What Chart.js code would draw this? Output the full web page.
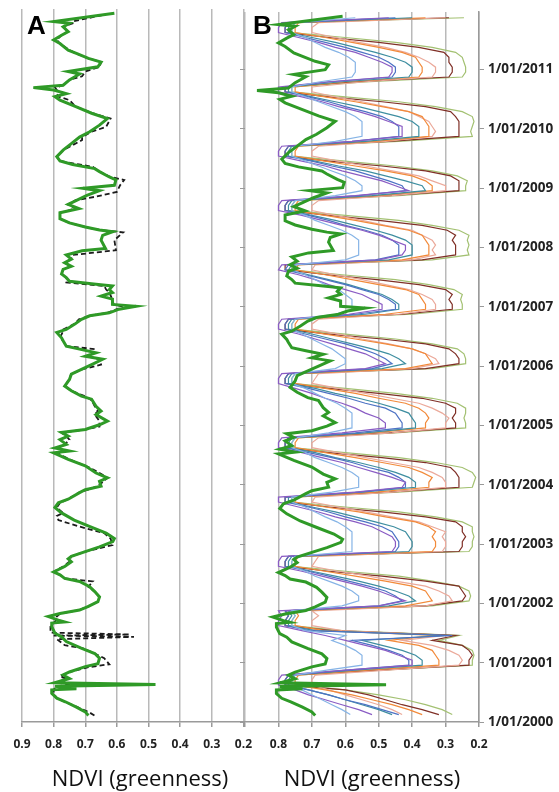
<!DOCTYPE html>
<html>
<head>
<meta charset="utf-8">
<script src="https://cdn.jsdelivr.net/npm/chart.js@4.4.0/dist/chart.umd.min.js"></script>
<style>
  body { margin: 0; background: #fff; width: 559px; height: 792px; position: relative; overflow: hidden; }
  canvas { position: absolute; top: 0; }
  #chartA { left: 0; }
  #chartB { left: 230px; }
  .panel { position: absolute; font: bold 26px "Liberation Sans", Arial, sans-serif; line-height: 26px; color: #000; }
  .xtitle { position: absolute; font: 22px "Open Sans", sans-serif; line-height: 22px; color: #111; white-space: nowrap; transform: translateX(-50%); }
</style>
</head>
<body>
<canvas id="chartA" width="262" height="792"></canvas>
<canvas id="chartB" width="329" height="792"></canvas>
<div class="panel" style="left:27px;top:12px">A</div>
<div class="panel" style="left:253px;top:12px">B</div>
<div class="xtitle" style="left:140px;top:766px">NDVI (greenness)</div>
<div class="xtitle" style="left:372px;top:766px">NDVI (greenness)</div>
<script>
// time runs bottom -> top as decimal years, NDVI on a reversed x axis
const yMin = 2000, yMax = 2011.97;

// green = study site, black dashed = comparison site (panel A), [year, ndvi]
const greenA = [
  [2000.11,0.69],[2000.17,0.70],[2000.25,0.728],[2000.34,0.763],[2000.40,0.79],[2000.48,0.806],[2000.54,0.806],[2000.56,0.728],
  [2000.60,0.796],[2000.63,0.478],[2000.66,0.796],[2000.73,0.75],[2000.79,0.77],[2000.84,0.75],[2000.93,0.70],[2000.98,0.66],
  [2001.07,0.655],[2001.15,0.67],[2001.24,0.713],[2001.35,0.76],[2001.43,0.775],[2001.49,0.796],[2001.60,0.806],[2001.66,0.806],
  [2001.68,0.765],[2001.71,0.785],[2001.77,0.817],[2001.82,0.78],[2001.88,0.718],[2001.94,0.69],[2002.02,0.66],[2002.10,0.655],
  [2002.19,0.67],[2002.27,0.686],[2002.36,0.718],[2002.41,0.765],[2002.47,0.78],[2002.52,0.80],[2002.61,0.765],[2002.69,0.744],
  [2002.74,0.754],[2002.78,0.744],[2002.86,0.70],[2002.94,0.655],[2003.03,0.613],[2003.08,0.608],[2003.17,0.634],[2003.28,0.685],
  [2003.39,0.735],[2003.51,0.775],[2003.60,0.796],[2003.68,0.785],[2003.74,0.754],[2003.85,0.718],[2003.90,0.70],[2003.96,0.65],
  [2004.04,0.655],[2004.10,0.63],[2004.18,0.666],[2004.30,0.70],[2004.41,0.754],[2004.52,0.80],[2004.55,0.75],[2004.60,0.796],
  [2004.66,0.76],[2004.74,0.78],[2004.80,0.754],[2004.86,0.775],[2004.91,0.70],[2004.99,0.655],[2005.05,0.63],[2005.16,0.666],
  [2005.22,0.65],[2005.30,0.666],[2005.42,0.68],[2005.47,0.712],[2005.56,0.744],[2005.64,0.765],[2005.75,0.75],[2005.84,0.744],
  [2005.92,0.712],[2006.00,0.68],[2006.09,0.645],[2006.14,0.70],[2006.20,0.666],[2006.26,0.718],[2006.31,0.76],[2006.40,0.77],
  [2006.45,0.775],[2006.54,0.79],[2006.59,0.76],[2006.68,0.733],[2006.76,0.712],[2006.82,0.686],[2006.87,0.624],[2006.93,0.593],
  [2006.98,0.54],[2007.01,0.614],[2007.10,0.614],[2007.15,0.65],[2007.21,0.614],[2007.26,0.624],[2007.32,0.614],[2007.35,0.666],
  [2007.40,0.75],[2007.46,0.76],[2007.52,0.775],[2007.60,0.77],[2007.65,0.744],[2007.71,0.765],[2007.77,0.744],[2007.84,0.76],
  [2007.91,0.71],[2007.95,0.636],[2008.09,0.65],[2008.17,0.645],[2008.23,0.613],[2008.26,0.655],[2008.31,0.70],[2008.38,0.75],
  [2008.45,0.78],[2008.55,0.78],[2008.62,0.72],[2008.69,0.754],[2008.76,0.726],[2008.84,0.695],[2008.92,0.655],[2008.96,0.707],
  [2009.01,0.608],[2009.10,0.603],[2009.15,0.624],[2009.24,0.655],[2009.29,0.67],[2009.36,0.74],[2009.42,0.78],[2009.49,0.79],
  [2009.60,0.77],[2009.71,0.744],[2009.82,0.718],[2009.91,0.686],[2010.02,0.655],[2010.13,0.63],[2010.22,0.68],[2010.33,0.73],
  [2010.44,0.78],[2010.50,0.796],[2010.55,0.76],[2010.61,0.80],[2010.65,0.864],[2010.69,0.77],[2010.78,0.75],[2010.88,0.718],
  [2010.92,0.754],[2011.00,0.66],[2011.08,0.65],[2011.14,0.69],[2011.22,0.726],[2011.28,0.754],[2011.39,0.78],[2011.45,0.80],
  [2011.53,0.775],[2011.59,0.754],[2011.67,0.77],[2011.73,0.75],[2011.76,0.80],[2011.90,0.608]
];

const blackA = [
  [2000.11,0.671],[2000.17,0.69],[2000.25,0.725],[2000.34,0.765],[2000.40,0.79],[2000.48,0.80],[2000.54,0.80],[2000.60,0.79],
  [2000.63,0.73],[2000.66,0.79],[2000.73,0.76],[2000.76,0.78],[2000.84,0.75],[2000.92,0.69],[2000.97,0.624],[2001.07,0.64],
  [2001.15,0.67],[2001.24,0.71],[2001.29,0.765],[2001.39,0.79],[2001.43,0.546],[2001.45,0.80],[2001.47,0.56],[2001.50,0.81],
  [2001.60,0.81],[2001.66,0.80],[2001.72,0.79],[2001.77,0.79],[2001.82,0.78],[2001.88,0.72],[2001.94,0.69],[2002.02,0.66],
  [2002.10,0.655],[2002.19,0.67],[2002.27,0.69],[2002.36,0.676],[2002.41,0.765],[2002.47,0.78],[2002.52,0.80],[2002.61,0.77],
  [2002.69,0.75],[2002.78,0.745],[2002.86,0.70],[2002.97,0.614],[2003.08,0.62],[2003.17,0.64],[2003.28,0.718],[2003.39,0.785],
  [2003.46,0.79],[2003.51,0.77],[2003.60,0.79],[2003.68,0.78],[2003.74,0.755],[2003.85,0.72],[2003.96,0.66],[2004.10,0.63],
  [2004.18,0.655],[2004.27,0.686],[2004.41,0.75],[2004.52,0.79],[2004.60,0.79],[2004.66,0.765],[2004.74,0.75],[2004.80,0.76],
  [2004.86,0.775],[2004.91,0.70],[2004.96,0.655],[2005.05,0.655],[2005.16,0.67],[2005.22,0.66],[2005.30,0.67],[2005.40,0.68],
  [2005.47,0.70],[2005.56,0.745],[2005.64,0.765],[2005.75,0.75],[2005.84,0.745],[2005.92,0.71],[2006.00,0.65],[2006.09,0.655],
  [2006.14,0.69],[2006.20,0.67],[2006.26,0.67],[2006.31,0.76],[2006.40,0.77],[2006.45,0.78],[2006.56,0.77],[2006.59,0.77],
  [2006.68,0.735],[2006.76,0.72],[2006.82,0.686],[2006.87,0.63],[2006.93,0.60],[2006.96,0.57],[2007.01,0.61],[2007.10,0.615],
  [2007.21,0.624],[2007.26,0.634],[2007.32,0.64],[2007.38,0.76],[2007.46,0.76],[2007.52,0.775],[2007.60,0.77],[2007.65,0.745],
  [2007.71,0.765],[2007.77,0.745],[2007.84,0.74],[2007.92,0.603],[2008.09,0.608],[2008.22,0.58],[2008.26,0.655],[2008.31,0.70],
  [2008.38,0.75],[2008.45,0.78],[2008.55,0.78],[2008.62,0.73],[2008.69,0.755],[2008.76,0.73],[2008.82,0.666],[2008.90,0.60],
  [2009.01,0.59],[2009.10,0.577],[2009.15,0.62],[2009.24,0.655],[2009.32,0.676],[2009.36,0.72],[2009.42,0.78],[2009.49,0.79],
  [2009.60,0.77],[2009.77,0.71],[2009.82,0.71],[2009.91,0.68],[2009.99,0.634],[2010.13,0.62],[2010.22,0.675],[2010.33,0.73],
  [2010.44,0.75],[2010.50,0.785],[2010.55,0.79],[2010.61,0.79],[2010.65,0.795],[2010.69,0.77],[2010.78,0.75],[2010.84,0.71],
  [2010.92,0.70],[2011.00,0.655],[2011.08,0.65],[2011.14,0.69],[2011.22,0.728],[2011.28,0.75],[2011.39,0.78],[2011.45,0.79],
  [2011.53,0.775],[2011.59,0.755],[2011.67,0.77],[2011.73,0.74],[2011.76,0.74],[2011.87,0.645]
];

// panel B comparison sites, one value per month (Feb 2000 .. Nov 2011), one row per year
const monthsB = [];
for (let yr = 2000; yr <= 2011; yr++) {
  for (let m = 0; m < 12; m++) {
    if ((yr === 2000 && m === 0) || (yr === 2011 && m === 11)) continue;
    monthsB.push(yr + (m + 0.5) / 12);
  }
}

const bBrown = [
  0.32,0.37,0.43,0.48,0.53,0.60,0.78,0.78,0.77,0.50,0.23,
  0.23,0.22,0.23,0.25,0.34,0.27,0.64,0.78,0.78,0.77,0.78,0.36,
  0.25,0.24,0.25,0.26,0.36,0.49,0.65,0.78,0.78,0.77,0.26,0.25,
  0.25,0.24,0.25,0.25,0.27,0.36,0.49,0.65,0.78,0.78,0.47,0.26,
  0.26,0.26,0.27,0.285,0.36,0.49,0.65,0.78,0.78,0.77,0.47,0.27,
  0.27,0.28,0.27,0.27,0.30,0.37,0.50,0.65,0.78,0.78,0.77,0.36,
  0.26,0.26,0.27,0.29,0.36,0.49,0.65,0.78,0.78,0.77,0.43,0.28,
  0.28,0.29,0.28,0.30,0.38,0.505,0.655,0.78,0.78,0.37,0.27,0.27,
  0.27,0.28,0.27,0.295,0.37,0.50,0.65,0.78,0.78,0.77,0.47,0.26,
  0.26,0.26,0.285,0.36,0.49,0.65,0.78,0.78,0.77,0.47,0.26,0.26,
  0.26,0.26,0.27,0.285,0.36,0.49,0.65,0.78,0.78,0.58,0.29,0.28,
  0.28,0.29,0.29,0.305,0.38,0.50,0.65,0.78,0.78,0.77,0.29
];
const bLightGreen = [
  0.28,0.31,0.36,0.42,0.50,0.60,0.76,0.76,0.75,0.49,0.22,
  0.22,0.215,0.22,0.25,0.32,0.26,0.61,0.76,0.76,0.75,0.76,0.34,
  0.23,0.225,0.23,0.26,0.34,0.44,0.60,0.76,0.76,0.75,0.23,0.22,
  0.22,0.215,0.22,0.22,0.25,0.33,0.44,0.60,0.76,0.76,0.44,0.22,
  0.215,0.21,0.22,0.25,0.33,0.44,0.60,0.76,0.76,0.75,0.45,0.24,
  0.24,0.245,0.24,0.24,0.265,0.34,0.45,0.60,0.76,0.76,0.75,0.34,
  0.24,0.24,0.245,0.265,0.34,0.45,0.60,0.76,0.76,0.75,0.40,0.25,
  0.25,0.255,0.25,0.275,0.35,0.45,0.61,0.76,0.76,0.34,0.23,0.235,
  0.23,0.235,0.23,0.26,0.34,0.44,0.60,0.76,0.76,0.75,0.44,0.24,
  0.24,0.235,0.265,0.34,0.45,0.60,0.76,0.76,0.75,0.44,0.22,0.225,
  0.22,0.215,0.22,0.25,0.33,0.44,0.60,0.76,0.76,0.54,0.25,0.24,
  0.24,0.245,0.25,0.27,0.34,0.45,0.60,0.76,0.76,0.75,0.245
];
const bPink = [
  0.43,0.46,0.50,0.55,0.60,0.65,0.70,0.70,0.69,0.475,0.26,
  0.25,0.26,0.29,0.34,0.43,0.30,0.61,0.70,0.70,0.68,0.70,0.36,
  0.28,0.29,0.32,0.36,0.45,0.53,0.62,0.70,0.69,0.68,0.31,0.30,
  0.30,0.31,0.30,0.34,0.38,0.46,0.54,0.62,0.70,0.69,0.46,0.30,
  0.30,0.31,0.34,0.38,0.46,0.54,0.62,0.70,0.70,0.68,0.46,0.30,
  0.30,0.29,0.31,0.34,0.38,0.46,0.54,0.62,0.70,0.69,0.68,0.40,
  0.32,0.33,0.36,0.40,0.47,0.55,0.62,0.70,0.70,0.68,0.44,0.33,
  0.33,0.34,0.37,0.41,0.48,0.55,0.63,0.70,0.69,0.40,0.33,0.34,
  0.33,0.34,0.37,0.40,0.48,0.55,0.63,0.70,0.70,0.68,0.46,0.30,
  0.30,0.34,0.38,0.46,0.54,0.62,0.70,0.70,0.68,0.48,0.34,0.33,
  0.34,0.35,0.38,0.41,0.48,0.55,0.63,0.70,0.70,0.55,0.34,0.33,
  0.33,0.35,0.38,0.42,0.48,0.56,0.63,0.70,0.70,0.68,0.30
];
const bOrange = [
  0.37,0.41,0.46,0.52,0.58,0.66,0.75,0.75,0.74,0.535,0.32,
  0.32,0.33,0.34,0.38,0.47,0.33,0.66,0.75,0.75,0.74,0.75,0.42,
  0.34,0.35,0.36,0.40,0.48,0.57,0.66,0.75,0.75,0.74,0.34,0.33,
  0.33,0.34,0.33,0.35,0.39,0.48,0.56,0.66,0.75,0.75,0.51,0.35,
  0.35,0.34,0.37,0.41,0.49,0.57,0.66,0.75,0.75,0.74,0.52,0.36,
  0.36,0.35,0.36,0.38,0.42,0.50,0.57,0.66,0.75,0.75,0.74,0.42,
  0.34,0.35,0.36,0.40,0.48,0.57,0.66,0.75,0.75,0.74,0.48,0.36,
  0.36,0.37,0.38,0.42,0.50,0.58,0.66,0.75,0.74,0.43,0.35,0.35,
  0.35,0.36,0.37,0.41,0.49,0.57,0.66,0.75,0.75,0.74,0.50,0.34,
  0.34,0.36,0.40,0.48,0.57,0.66,0.75,0.75,0.74,0.51,0.35,0.35,
  0.35,0.36,0.37,0.41,0.49,0.57,0.66,0.75,0.75,0.60,0.38,0.37,
  0.37,0.38,0.39,0.43,0.50,0.58,0.66,0.75,0.75,0.74,0.36
];
const bTeal = [
  0.46,0.50,0.55,0.60,0.65,0.71,0.77,0.77,0.76,0.57,0.37,
  0.37,0.39,0.43,0.49,0.55,0.30,0.69,0.77,0.77,0.76,0.77,0.47,
  0.39,0.41,0.45,0.50,0.56,0.63,0.70,0.77,0.77,0.76,0.41,0.40,
  0.40,0.41,0.42,0.455,0.51,0.57,0.63,0.70,0.77,0.77,0.55,0.39,
  0.39,0.41,0.45,0.50,0.56,0.63,0.69,0.77,0.77,0.76,0.54,0.39,
  0.39,0.40,0.41,0.45,0.50,0.56,0.63,0.69,0.77,0.77,0.76,0.49,
  0.42,0.44,0.47,0.52,0.58,0.64,0.70,0.77,0.77,0.76,0.54,0.44,
  0.44,0.46,0.49,0.54,0.59,0.65,0.71,0.77,0.76,0.47,0.40,0.40,
  0.40,0.42,0.46,0.51,0.57,0.63,0.70,0.77,0.77,0.76,0.52,0.36,
  0.37,0.42,0.48,0.54,0.62,0.69,0.77,0.77,0.76,0.54,0.38,0.38,
  0.38,0.40,0.44,0.50,0.56,0.63,0.70,0.77,0.77,0.62,0.41,0.40,
  0.40,0.42,0.46,0.51,0.57,0.63,0.70,0.77,0.77,0.76,0.40
];
const bBlue = [
  0.44,0.49,0.54,0.60,0.65,0.71,0.78,0.78,0.77,0.595,0.41,
  0.41,0.43,0.47,0.52,0.58,0.28,0.71,0.78,0.78,0.77,0.78,0.50,
  0.43,0.45,0.48,0.53,0.59,0.65,0.71,0.78,0.78,0.77,0.45,0.44,
  0.44,0.45,0.46,0.49,0.54,0.60,0.65,0.71,0.78,0.78,0.56,0.42,
  0.42,0.44,0.47,0.53,0.58,0.64,0.71,0.78,0.78,0.77,0.57,0.43,
  0.43,0.44,0.45,0.48,0.54,0.59,0.65,0.71,0.78,0.78,0.77,0.52,
  0.46,0.48,0.51,0.55,0.60,0.66,0.72,0.78,0.78,0.77,0.57,0.45,
  0.45,0.47,0.50,0.55,0.60,0.66,0.72,0.78,0.77,0.51,0.44,0.44,
  0.44,0.46,0.49,0.54,0.60,0.65,0.71,0.78,0.78,0.77,0.56,0.42,
  0.43,0.47,0.52,0.57,0.64,0.70,0.78,0.78,0.77,0.58,0.44,0.44,
  0.44,0.46,0.49,0.54,0.60,0.65,0.71,0.78,0.78,0.65,0.46,0.45,
  0.45,0.47,0.50,0.55,0.60,0.66,0.72,0.78,0.78,0.77,0.45
];
const bPurple = [
  0.52,0.56,0.61,0.66,0.71,0.75,0.80,0.80,0.79,0.60,0.40,
  0.40,0.44,0.48,0.54,0.60,0.66,0.73,0.80,0.80,0.79,0.80,0.50,
  0.42,0.46,0.50,0.55,0.61,0.67,0.73,0.80,0.80,0.79,0.46,0.45,
  0.45,0.46,0.49,0.52,0.57,0.63,0.68,0.74,0.80,0.80,0.57,0.43,
  0.42,0.46,0.51,0.56,0.61,0.67,0.73,0.80,0.80,0.79,0.61,0.48,
  0.48,0.50,0.54,0.57,0.61,0.66,0.70,0.75,0.80,0.80,0.79,0.54,
  0.48,0.51,0.54,0.59,0.64,0.69,0.74,0.80,0.80,0.79,0.59,0.49,
  0.49,0.52,0.55,0.60,0.65,0.69,0.74,0.80,0.79,0.50,0.43,0.42,
  0.42,0.46,0.50,0.55,0.61,0.67,0.73,0.80,0.80,0.79,0.57,0.41,
  0.45,0.49,0.55,0.61,0.66,0.73,0.80,0.80,0.79,0.58,0.43,0.43,
  0.43,0.47,0.51,0.56,0.62,0.67,0.73,0.80,0.80,0.66,0.47,0.46,
  0.46,0.49,0.53,0.57,0.63,0.68,0.74,0.80,0.80,0.79,0.47
];
const bLightBlue = [
  0.585,0.61,0.64,0.67,0.70,0.73,0.76,0.76,0.75,0.655,0.55,
  0.55,0.55,0.57,0.60,0.64,0.60,0.72,0.76,0.76,0.75,0.76,0.61,
  0.56,0.56,0.58,0.61,0.65,0.69,0.72,0.76,0.76,0.75,0.58,0.58,
  0.58,0.58,0.58,0.60,0.625,0.66,0.69,0.72,0.76,0.76,0.64,0.56,
  0.56,0.56,0.58,0.61,0.65,0.69,0.72,0.76,0.76,0.75,0.65,0.58,
  0.58,0.58,0.58,0.60,0.625,0.66,0.69,0.72,0.76,0.76,0.75,0.63,
  0.60,0.60,0.62,0.64,0.67,0.70,0.73,0.76,0.76,0.75,0.63,0.58,
  0.58,0.58,0.60,0.62,0.66,0.69,0.72,0.76,0.75,0.60,0.56,0.56,
  0.56,0.56,0.58,0.61,0.65,0.69,0.72,0.76,0.76,0.75,0.63,0.55,
  0.55,0.57,0.60,0.64,0.68,0.72,0.76,0.76,0.75,0.63,0.55,0.55,
  0.55,0.55,0.57,0.60,0.64,0.68,0.72,0.76,0.76,0.68,0.58,0.57,
  0.57,0.57,0.59,0.62,0.66,0.69,0.72,0.76,0.76,0.75,0.57
];

const gridGray = '#b9b9b9';
const axisGray = '#9a9a9a';
const tickFont = { family: '"Open Sans"', size: 12, weight: 'bold' };

function pairs(list) { return list.map(([t, v]) => ({ x: v, y: t })); }
function monthly(vals) { return vals.map((v, i) => ({ x: v, y: monthsB[i] })); }

function ndviAxis(hideLeft) {
  return {
    type: 'linear', min: 0.2, max: 0.9, reverse: true,
    ticks: {
      stepSize: 0.1, autoSkip: false, maxRotation: 0, padding: 10, color: '#222', font: tickFont,
      callback: v => (hideLeft && v > 0.85) ? '' : v.toFixed(1)
    },
    grid: { color: gridGray, lineWidth: 1.5, tickLength: 5, tickColor: axisGray },
    border: { color: axisGray, width: 1.5 },
    afterFit: s => { s.height = 70; }
  };
}

const common = {
  responsive: false, animation: false, devicePixelRatio: 1, indexAxis: 'y',
  elements: { point: { radius: 0 }, line: { tension: 0, fill: false } },
  plugins: { legend: { display: false }, tooltip: { enabled: false } }
};

new Chart(document.getElementById('chartA'), {
  type: 'line',
  data: {
    datasets: [
      { data: pairs(greenA), borderColor: '#2f9a27', borderWidth: 3 },
      { data: pairs(blackA), borderColor: '#1b1b1b', borderWidth: 1.8, borderDash: [5, 3] }
    ]
  },
  options: {
    ...common,
    layout: { padding: { left: 22, right: 17, top: 9, bottom: 0 } },
    scales: {
      x: ndviAxis(false),
      y: { type: 'linear', min: yMin, max: yMax, display: false }
    }
  }
});

const thin = [
  [bLightBlue, '#86b4e6'], [bPurple, '#8a5cc4'], [bBlue, '#4d72c4'], [bTeal, '#3e8ea0'],
  [bOrange, '#f28a3a'], [bPink, '#eba99a'], [bBrown, '#7f2f26'], [bLightGreen, '#a3c172']
];

new Chart(document.getElementById('chartB'), {
  type: 'line',
  data: {
    datasets: [
      { data: pairs(greenA), borderColor: '#2f9a27', borderWidth: 3, yAxisID: 'y' },
      ...thin.map(([vals, col]) => ({ data: monthly(vals), borderColor: col, borderWidth: 1.2, yAxisID: 'y' }))
    ]
  },
  options: {
    ...common,
    layout: { padding: { left: 0, right: 0, top: 9, bottom: 0 } },
    scales: {
      x: ndviAxis(true),
      y: {
        type: 'linear', position: 'right', min: yMin, max: yMax,
        ticks: {
          stepSize: 1, includeBounds: false, padding: 4, color: '#222',
          font: { family: '"Open Sans"', size: 13.5, weight: 'bold' },
          callback: v => '1/01/' + v
        },
        grid: { drawOnChartArea: false, tickLength: 5, color: axisGray },
        border: { color: axisGray, width: 1.5 },
        afterFit: s => { s.width = 80; }
      },
      yL: {
        type: 'linear', position: 'left', min: yMin, max: yMax,
        ticks: { display: false, stepSize: 1, includeBounds: false },
        grid: { drawOnChartArea: false, tickLength: 5, color: axisGray },
        border: { display: false },
        afterFit: s => { s.width = 15; }
      }
    }
  }
});
</script>
</body>
</html>
